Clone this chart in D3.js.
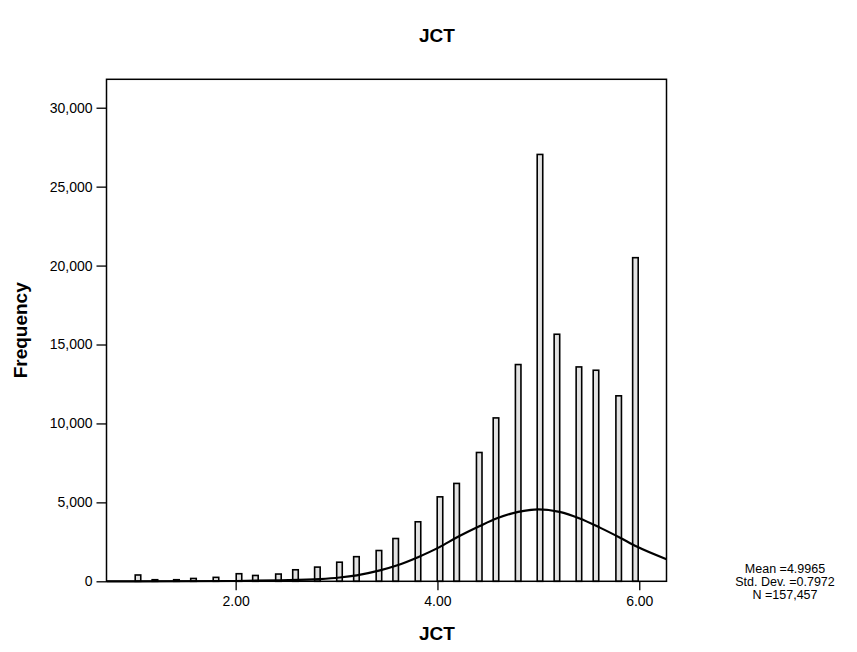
<!DOCTYPE html>
<html>
<head>
<meta charset="utf-8">
<script src="https://cdn.jsdelivr.net/npm/d3@7"></script>
<style>
  body { margin: 0; background: #fff; }
  svg { font-family: 'Liberation Sans', Arial, sans-serif; }
  .axis text { font-size: 14px; fill: #000; }
  .axis line { stroke: #000; stroke-width: 1.3px; }
  .axis path { display: none; }
  .title { font-size: 19px; font-weight: bold; }
  .axis-label { font-size: 19px; font-weight: bold; }
  .stats { font-size: 12.5px; }
</style>
</head>
<body>
<svg width="857" height="652"></svg>
<script>
// bin centres of the non-empty bins, and their counts
const binCenters = [1.032, 1.20, 1.413, 1.582, 1.805, 2.033, 2.196, 2.424, 2.593, 2.81, 3.029, 3.197, 3.42,
  3.586, 3.807, 4.025, 4.19, 4.414, 4.58, 4.80, 5.016, 5.184, 5.402, 5.571, 5.796, 5.962];
const frequencies = [400, 100, 100, 180, 250, 480, 370, 460, 730, 900, 1210, 1560, 1950,
  2710, 3770, 5350, 6200, 8160, 10350, 13730, 27040, 15650, 13580, 13370, 11750, 20500];

// normal curve
const curveX = [0.72, 1.0, 2.0, 2.44, 2.835, 3.03, 3.2, 3.43, 3.595, 3.807, 4.025, 4.19, 4.42, 4.59,
  4.80, 5.0, 5.21, 5.41, 5.61, 5.81, 5.975, 6.27];
const curveY = [0, 0, 20, 60, 140, 240, 380, 690, 1000, 1530, 2180, 2770, 3500, 3990,
  4400, 4560, 4400, 3980, 3400, 2760, 2200, 1400];

const xTicks = [2, 4, 6];
const yTicks = [0, 5000, 10000, 15000, 20000, 25000, 30000];
const statLines = ['Mean =4.9965', 'Std. Dev. =0.7972', 'N =157,457'];

const binWidth = 0.055;

const svg = d3.select('svg'),
    margin = {top: 79.3, left: 106.5},
    width = 560,
    height = 502;

const x = d3.scaleLinear().domain([0.72, 6.27]).range([0, width]);
const y = d3.scaleLinear().domain([0, 31800]).range([height, 0]);

svg.append('text')
    .attr('class', 'title')
    .attr('x', 437)
    .attr('y', 42)
    .attr('text-anchor', 'middle')
    .text('JCT');

const g = svg.append('g')
    .attr('transform', 'translate(' + margin.left + ',' + margin.top + ')');

g.append('g')
    .attr('class', 'axis axis--y')
    .call(d3.axisLeft(y).tickValues(yTicks).tickFormat(d3.format(',')).tickSize(10).tickPadding(4));

g.append('g')
    .attr('class', 'axis axis--x')
    .attr('transform', 'translate(0,' + height + ')')
    .call(d3.axisBottom(x).tickValues(xTicks).tickFormat(d3.format('.2f')).tickSize(9).tickPadding(6));

g.selectAll('.bar')
    .data(binCenters)
  .enter().append('rect')
    .attr('class', 'bar')
    .attr('x', function(d) { return x(d - binWidth / 2); })
    .attr('y', function(d, i) { return y(frequencies[i]); })
    .attr('width', function(d) { return x(d + binWidth / 2) - x(d - binWidth / 2); })
    .attr('height', function(d, i) { return y(0) - y(frequencies[i]); })
    .attr('fill', '#e2e2e2')
    .attr('stroke', '#000')
    .attr('stroke-width', 1.6);

const line = d3.line()
    .x(function(d) { return x(d); })
    .y(function(d, i) { return y(curveY[i]); })
    .curve(d3.curveMonotoneX);

g.append('path')
    .datum(curveX)
    .attr('d', line)
    .attr('fill', 'none')
    .attr('stroke', '#000')
    .attr('stroke-width', 2.2);

// frame round the plot
g.append('rect')
    .attr('width', width)
    .attr('height', height)
    .attr('fill', 'none')
    .attr('stroke', '#000')
    .attr('stroke-width', 1.5);

svg.append('text')
    .attr('class', 'axis-label')
    .attr('x', 437)
    .attr('y', 640)
    .attr('text-anchor', 'middle')
    .text('JCT');

svg.append('text')
    .attr('class', 'axis-label')
    .attr('transform', 'translate(27,' + (margin.top + height / 2) + ') rotate(-90)')
    .attr('text-anchor', 'middle')
    .text('Frequency');

svg.append('g')
    .attr('class', 'stats')
    .selectAll('text')
    .data(statLines)
  .enter().append('text')
    .attr('x', 785)
    .attr('y', function(d, i) { return 573 + i * 13; })
    .attr('text-anchor', 'middle')
    .text(function(d) { return d; });
</script>
</body>
</html>
